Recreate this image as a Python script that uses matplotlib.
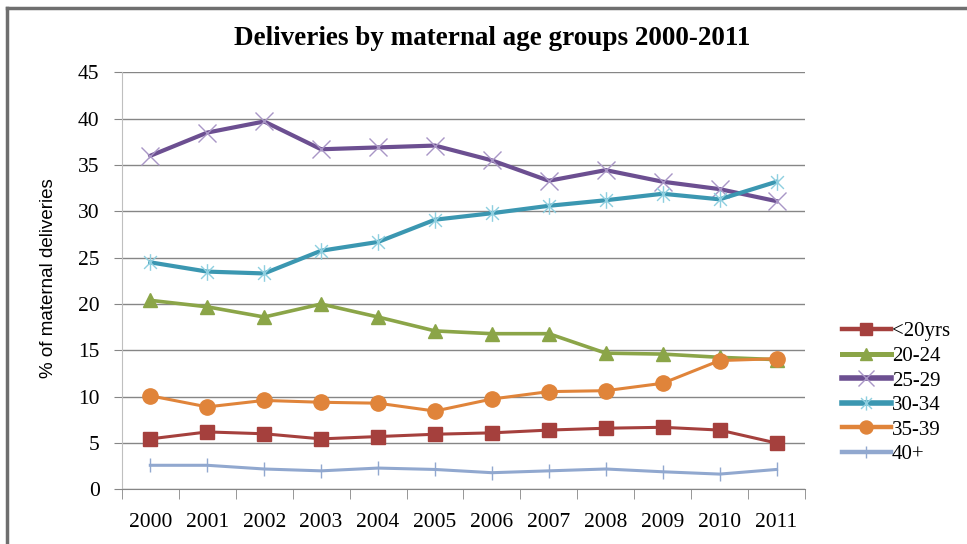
import matplotlib
matplotlib.use("Agg")
import matplotlib.pyplot as plt
from matplotlib.path import Path
from matplotlib.lines import Line2D

years = ["2000", "2001", "2002", "2003", "2004", "2005",
         "2006", "2007", "2008", "2009", "2010", "2011"]
age_groups = ["<20yrs", "20-24", "25-29", "30-34", "35-39", "40+"]

under_20 = [5.45, 6.2, 6.0, 5.45, 5.7, 5.95, 6.1, 6.4, 6.6, 6.7, 6.4, 5.0]
age_20_24 = [20.4, 19.7, 18.6, 20.0, 18.6, 17.1, 16.8, 16.8, 14.7, 14.6, 14.25, 14.0]
age_25_29 = [36.0, 38.5, 39.7, 36.7, 36.9, 37.1, 35.5, 33.3, 34.45, 33.2, 32.4, 31.1]
age_30_34 = [24.5, 23.5, 23.3, 25.75, 26.7, 29.1, 29.8, 30.6, 31.2, 31.9, 31.3, 33.2]
age_35_39 = [10.1, 8.9, 9.6, 9.4, 9.3, 8.45, 9.75, 10.55, 10.65, 11.45, 13.9, 14.1]
age_40_plus = [2.6, 2.6, 2.2, 2.0, 2.3, 2.15, 1.8, 2.0, 2.2, 1.9, 1.65, 2.15]

# asterisk marker (x plus a vertical stroke), like the spreadsheet "star"
star = Path([(-1, -1), (1, 1), (-1, 1), (1, -1), (0, -1.3), (0, 1.3)],
            [Path.MOVETO, Path.LINETO, Path.MOVETO, Path.LINETO,
             Path.MOVETO, Path.LINETO])

# (values, line colour, marker, marker face, marker edge, size, line width)
styles = [
    (under_20, "#a5403d", "s", "#a5403d", "#a5403d", 10, 2.2),
    (age_20_24, "#8ba548", "^", "#8ba548", "#8ba548", 10, 2.6),
    (age_25_29, "#6c4f91", "x", "none", "#a996c6", 13, 3.0),
    (age_30_34, "#3b97b1", star, "none", "#8ecfe0", 12, 3.0),
    (age_35_39, "#e0843a", "o", "#e0843a", "#e0843a", 11, 2.2),
    (age_40_plus, "#91a8cf", "|", "none", "#91a8cf", 10, 2.2),
]

serif = "Liberation Serif"
grey = "#868686"

fig = plt.figure(figsize=(9.67, 5.44), dpi=100)
ax = fig.add_axes([0.126, 0.1004, 0.7065, 0.7666])

x = range(len(years))
handles = []
for label, (vals, col, mk, mfc, mec, ms, lw) in zip(age_groups, styles):
    ax.plot(x, vals, color=col, lw=lw, marker=mk, markersize=ms,
            markerfacecolor=mfc, markeredgecolor=mec, markeredgewidth=1.0,
            solid_joinstyle="round", zorder=3)
    handles.append(Line2D([], [], color=col, lw=lw + 1, marker=mk,
                          markersize=ms * 0.85, markerfacecolor=mfc,
                          markeredgecolor=mec, markeredgewidth=1.0,
                          label=label))

ax.set_xlim(-0.5, len(years) - 0.5)
ax.set_ylim(0, 45)
ax.set_yticks(range(0, 46, 5))
ax.set_xticks(list(x))
ax.set_xticklabels(years)
ax.set_xticks([i - 0.5 for i in range(len(years) + 1)], minor=True)

ax.grid(axis="y", color=grey, lw=1.0, zorder=0)
for side in ("top", "right"):
    ax.spines[side].set_visible(False)
ax.spines["left"].set_color("#bfbfbf")
ax.spines["bottom"].set_color(grey)
ax.tick_params(axis="y", direction="out", length=6, color=grey, pad=10)
ax.tick_params(axis="x", which="major", length=0, pad=17)
ax.tick_params(axis="x", which="minor", direction="out", length=7, color=grey)
for t in ax.get_xticklabels() + ax.get_yticklabels():
    t.set_fontfamily(serif)
    t.set_fontsize(15.5)

fig.text(0.509, 0.93, "Deliveries by maternal age groups 2000-2011",
         ha="center", va="center", fontfamily=serif, fontweight="bold",
         fontsize=19.5)
fig.text(0.05, 0.489, "% of maternal deliveries", rotation=90,
         ha="center", va="center", fontfamily="Liberation Sans", fontsize=13.5)

fig.legend(handles=handles, loc="upper left", bbox_to_anchor=(0.851, 0.443),
           frameon=False, handlelength=2.35, labelspacing=0.24,
           handletextpad=0.05, prop={"family": serif, "size": 15})

# chart frame along the top and left edges
fig.add_artist(Line2D([0.007, 1.0], [0.985, 0.985], color="#6f6f6f", lw=2.5,
                      transform=fig.transFigure))
fig.add_artist(Line2D([0.007, 0.007], [0.0, 0.985], color="#6f6f6f", lw=2.5,
                      transform=fig.transFigure))

fig.savefig("out.png", dpi=100)
